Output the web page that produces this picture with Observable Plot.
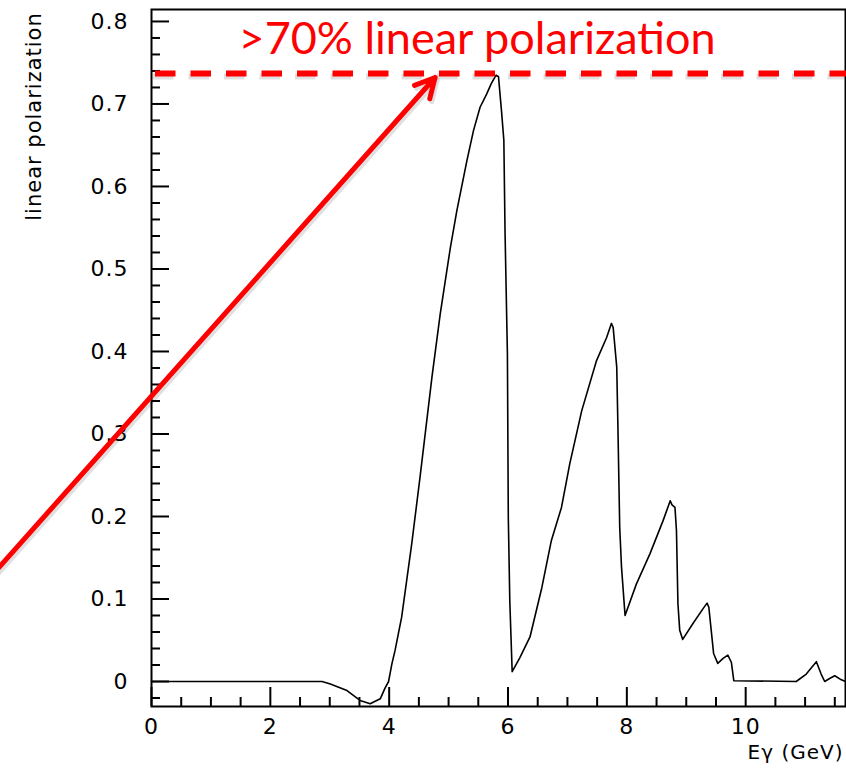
<!DOCTYPE html>
<html>
<head>
<meta charset="utf-8">
<script src="https://cdn.jsdelivr.net/npm/d3@7"></script>
<script src="https://cdn.jsdelivr.net/npm/@observablehq/plot@0.6"></script>
<style>
  html, body { margin: 0; padding: 0; background: #fff; }
  svg g[aria-label$="tick label"] text { letter-spacing: 1px; }
  svg g.ax-title text { letter-spacing: 1px; }
</style>
</head>
<body>
<div id="chart"></div>
<script>
// Photon energy (GeV) and linear polarization
const energy = [0, 2.87, 3.01, 3.29, 3.51, 3.68, 3.85, 3.93, 3.99, 4.045, 4.10, 4.21, 4.38, 4.52, 4.72, 4.86, 5.03, 5.14, 5.31, 5.42, 5.53, 5.64, 5.72, 5.80, 5.84, 5.89, 5.93, 5.95, 5.99, 6.005, 6.03, 6.07, 6.20, 6.37, 6.57, 6.73, 6.90, 7.04, 7.24, 7.49, 7.66, 7.74, 7.77, 7.83, 7.85, 7.88, 7.91, 7.97, 8.16, 8.39, 8.61, 8.73, 8.76, 8.81, 8.835, 8.86, 8.89, 8.94, 9.11, 9.28, 9.35, 9.38, 9.42, 9.46, 9.53, 9.62, 9.70, 9.76, 9.80, 10.85, 11.02, 11.12, 11.19, 11.27, 11.33, 11.42, 11.50, 11.61, 11.68];
const polarization = [0, 0, -0.003, -0.011, -0.023, -0.027, -0.021, -0.008, 0, 0.021, 0.038, 0.078, 0.167, 0.248, 0.369, 0.446, 0.526, 0.571, 0.632, 0.668, 0.696, 0.712, 0.725, 0.735, 0.733, 0.692, 0.656, 0.545, 0.397, 0.199, 0.098, 0.012, 0.029, 0.054, 0.114, 0.171, 0.211, 0.264, 0.328, 0.389, 0.417, 0.434, 0.429, 0.381, 0.308, 0.187, 0.139, 0.080, 0.118, 0.155, 0.195, 0.219, 0.214, 0.211, 0.183, 0.094, 0.062, 0.051, 0.070, 0.088, 0.095, 0.090, 0.062, 0.034, 0.022, 0.028, 0.032, 0.023, 0.001, 0, 0.009, 0.018, 0.024, 0.009, 0, 0.004, 0.007, 0.002, 0];

// Axis ticks
const xMajorTicks = [0, 2, 4, 6, 8, 10];
const xMinorTicks = [0.5, 1, 1.5, 2.5, 3, 3.5, 4.5, 5, 5.5, 6.5, 7, 7.5, 8.5, 9, 9.5, 10.5, 11, 11.5];
const xTickLabels = ["0", "2", "4", "6", "8", "10"];
const yMajorTicks = [0, 0.1, 0.2, 0.3, 0.4, 0.5, 0.6, 0.7, 0.8];
const yTickLabels = ["0", "0.1", "0.2", "0.3", "0.4", "0.5", "0.6", "0.7", "0.8"];
const yMinorTicks = d3.range(-1, 41).map(i => +(i * 0.02).toFixed(2)).filter(v => !yMajorTicks.includes(v));

// Annotation values
const threshold = [0.737];
const annotationText = [">70% linear polarization"];
const annotationPos = [{x: 5.48, y: 0.778}];
const arrowFrom = [{x: -2.7, y: 0.1275}];
const arrowTo = [{x: 4.773, y: 0.7321}];
const xTitle = "E\u03b3 (GeV)";
const yTitle = "linear polarization";

const xDomain = [0, 11.68];
const yDomain = [-0.0303, 0.8145];

const curve = energy.map((e, i) => ({e, p: polarization[i]}));
const arrows = arrowFrom.map((a, i) => ({x1: a.x, y1: a.y, x2: arrowTo[i].x, y2: arrowTo[i].y}));
const red = "#ff0000";

const chart = Plot.plot({
  width: 846,
  height: 774,
  marginLeft: 151,
  marginRight: 1,
  marginTop: 9,
  marginBottom: 68,
  style: {fontFamily: "DejaVu Sans", fontSize: "22px", background: "#fff", overflow: "visible", color: "#000"},
  x: {domain: xDomain},
  y: {domain: yDomain},
  marks: [
    Plot.frame({stroke: "#000", strokeWidth: 2}),
    // x axis
    Plot.axisX({ticks: xMajorTicks, tickSize: 0, tickPadding: 12, tickFormat: d => xTickLabels[xMajorTicks.indexOf(d)], label: null, fontSize: 22}),
    Plot.axisX({ticks: xMajorTicks, tickSize: -19, text: null, label: null, strokeWidth: 2}),
    Plot.axisX({ticks: xMinorTicks, tickSize: -9, text: null, label: null, strokeWidth: 2}),
    // y axis
    Plot.axisY({ticks: yMajorTicks, tickSize: 0, tickPadding: 23, tickFormat: d => yTickLabels[yMajorTicks.indexOf(d)], label: null, fontSize: 22}),
    Plot.axisY({ticks: yMajorTicks, tickSize: -18, text: null, label: null, strokeWidth: 2}),
    Plot.axisY({ticks: yMinorTicks, tickSize: -9, text: null, label: null, strokeWidth: 2}),
    // titles
    Plot.text([yTitle], {frameAnchor: "top-left", text: d => d, rotate: -90, textAnchor: "middle", dx: -125, dy: 107, fontSize: 21, className: "ax-title"}),
    Plot.text([xTitle], {frameAnchor: "bottom-right", text: d => d, textAnchor: "end", dx: -2, dy: 52, fontSize: 20, className: "ax-title"}),
    // data curve
    Plot.line(curve, {x: "e", y: "p", stroke: "#000", strokeWidth: 1.6}),
    // annotation: shadows
    Plot.ruleY(threshold, {stroke: "#000", strokeOpacity: 0.12, strokeWidth: 6, strokeDasharray: "20.5,15", dy: 3, dx: 2}),
    Plot.arrow(arrows, {x1: "x1", y1: "y1", x2: "x2", y2: "y2", stroke: "#000", strokeOpacity: 0.12, strokeWidth: 5, headLength: 6.6, headAngle: 55, dx: 2, dy: 3}),
    // annotation
    Plot.ruleY(threshold, {stroke: red, strokeWidth: 6, strokeDasharray: "20.5,15", dx: 4}),
    Plot.arrow(arrows, {x1: "x1", y1: "y1", x2: "x2", y2: "y2", stroke: red, strokeWidth: 5, headLength: 6.6, headAngle: 55}),
    Plot.text(annotationPos, {x: "x", y: "y", text: (d, i) => annotationText[i], fill: red, fontSize: 45, fontFamily: "Lato", textAnchor: "middle"})
  ]
});
document.getElementById("chart").appendChild(chart);
</script>
</body>
</html>
